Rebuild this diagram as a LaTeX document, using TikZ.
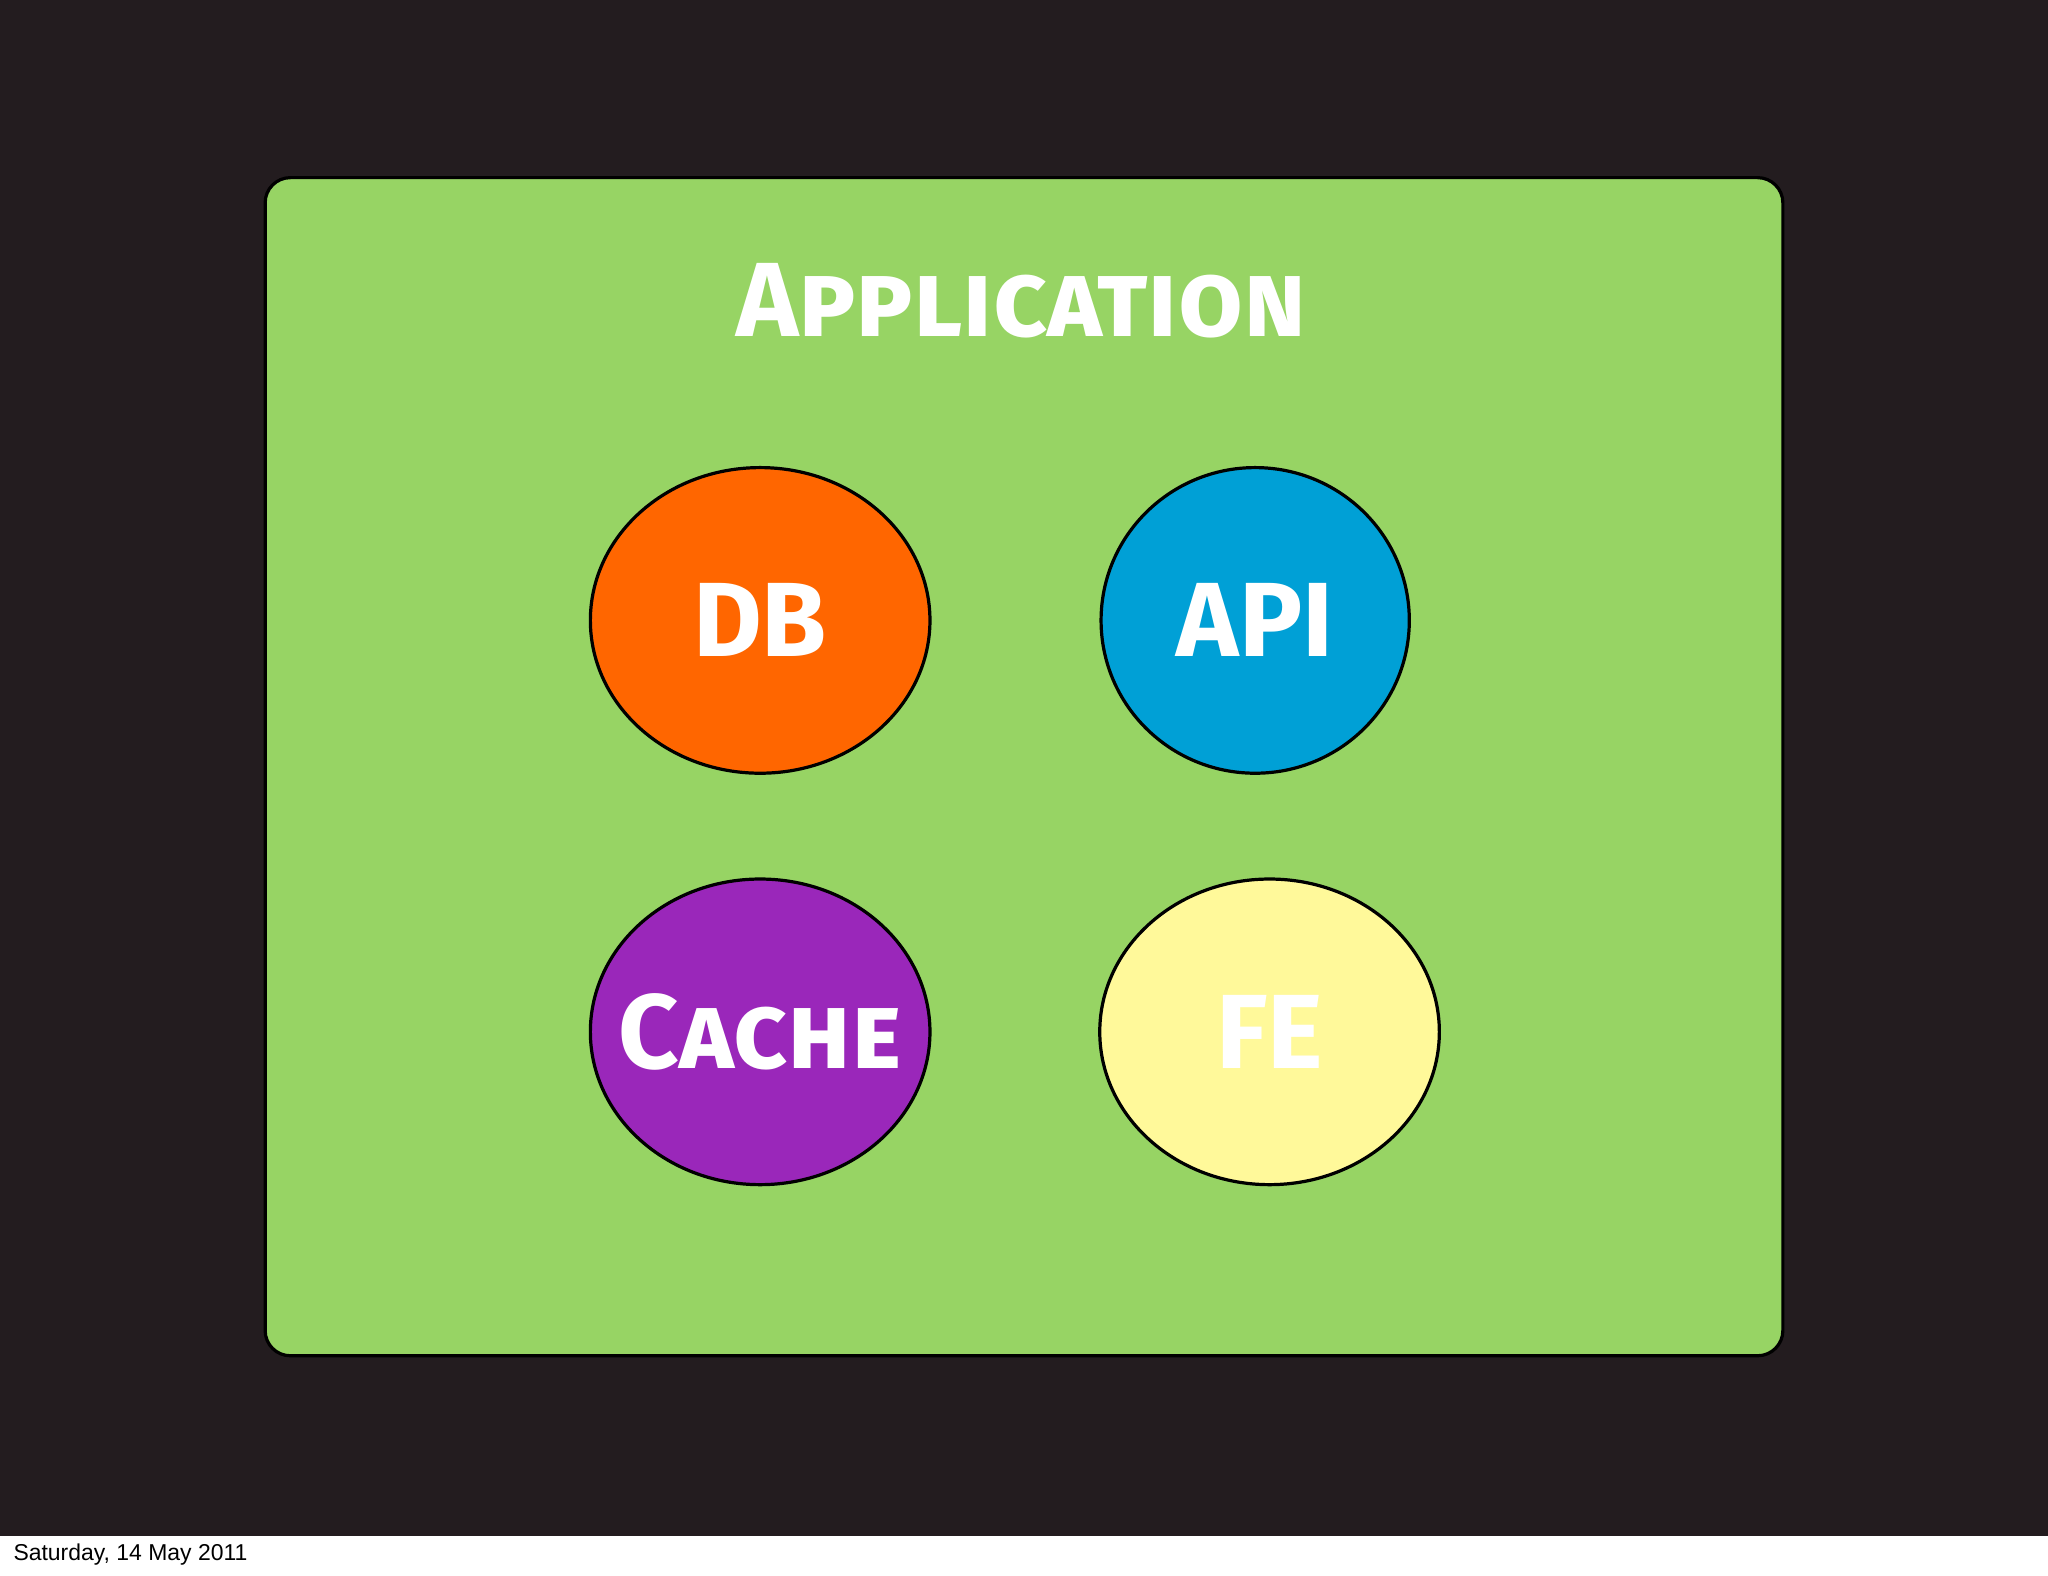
\documentclass[tikz,border=0pt]{standalone}
\usepackage{fontspec}
\setmainfont{Fira Sans}
\newfontfamily\capsfont[Letters=SmallCaps]{Fira Sans Bold}
\newfontfamily\datefont{Liberation Sans}
\definecolor{bgdark}{HTML}{231C1F}
\definecolor{appgreen}{HTML}{97D464}
\definecolor{dborange}{HTML}{FF6600}
\definecolor{apiblue}{HTML}{00A0D6}
\definecolor{cachepurple}{HTML}{9A27BA}
\definecolor{feyellow}{HTML}{FFF99A}
\tikzset{
  blob/.style={draw=black, line width=1.4pt, ellipse},
  blobtext/.style={text=white, font=\fontsize{46}{50}\selectfont\capsfont},
}
\begin{document}
\begin{tikzpicture}[x=0.02cm,y=-0.02cm]
\useasboundingbox (0,0) rectangle (1568,1206);
\fill[white] (0,0) rectangle (1568,1206);
\fill[bgdark] (0,0) rectangle (1568,1176);
\draw[fill=appgreen, line width=1.4pt, rounded corners=11pt] (203,136) rectangle (1365,1038);
\node[text=white, font=\fontsize{46}{50}\selectfont\capsfont] (title) at (782,230) {Application};
\fill[dborange, draw=black, line width=1.4pt] (582,475) ellipse [x radius=130, y radius=117];
\node[blobtext] (db) at (582,475) {DB};
\fill[apiblue, draw=black, line width=1.4pt] (961,475) ellipse [x radius=118, y radius=117];
\node[blobtext] (api) at (961,475) {API};
\fill[cachepurple, draw=black, line width=1.4pt] (582,790) ellipse [x radius=130, y radius=117];
\node[blobtext] (cache) at (582,790) {Cache};
\fill[feyellow, draw=black, line width=1.4pt] (972,790) ellipse [x radius=130, y radius=117];
\node[blobtext] (fe) at (972,790) {FE};
\node[anchor=west, font=\fontsize{10}{12}\selectfont\datefont, inner sep=0pt] (date) at (10,1190) {Saturday, 14 May 2011};
\end{tikzpicture}
\end{document}
